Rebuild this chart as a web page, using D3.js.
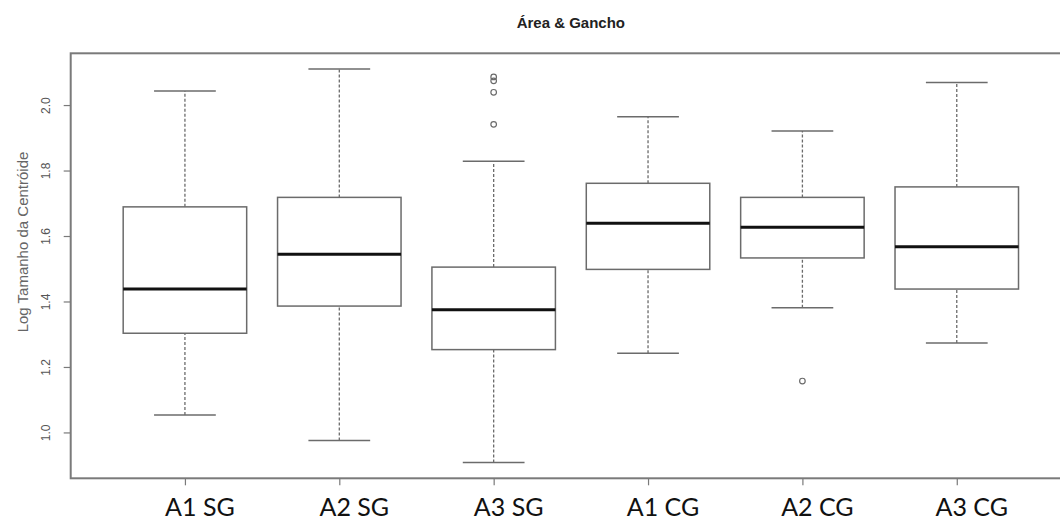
<!DOCTYPE html>
<html>
<head>
<meta charset="utf-8">
<script src="https://cdn.jsdelivr.net/npm/d3@7"></script>
<style>
  body { margin: 0; background: #fff; }
  svg { display: block; }
</style>
</head>
<body>
<svg id="chart" width="1060" height="526"></svg>
<script>
// ---- data ----
const title = "Área & Gancho";
const yLabel = "Log Tamanho da Centróide";
const categories = ["A1 SG", "A2 SG", "A3 SG", "A1 CG", "A2 CG", "A3 CG"];
const whiskerLow  = [1.053, 0.975, 0.908, 1.242, 1.381, 1.273];
const q1          = [1.303, 1.386, 1.253, 1.498, 1.533, 1.438];
const medians     = [1.438, 1.544, 1.375, 1.639, 1.627, 1.567];
const q3          = [1.689, 1.718, 1.505, 1.761, 1.718, 1.750];
const whiskerHigh = [2.043, 2.110, 1.828, 1.964, 1.921, 2.069];
const outlierCategory = ["A3 SG", "A3 SG", "A3 SG", "A3 SG", "A2 CG"];
const outlierValues   = [2.086, 2.074, 2.039, 1.941, 1.157];
const yTicks = [1.0, 1.2, 1.4, 1.6, 1.8, 2.0];

// ---- layout ----
const plotLeft = 70.7, plotRight = 1071, plotTop = 53.3, plotBottom = 478.3;
const svg = d3.select("#chart");

const n = categories.length;
const x = d3.scaleLinear().domain([0.5 - 0.04 * n, n + 0.5 + 0.04 * n]).range([plotLeft, plotRight]);
const allVals = whiskerLow.concat(whiskerHigh, outlierValues);
const lo = d3.min(allVals), hi = d3.max(allVals), pad = (hi - lo) * 0.04;
const y = d3.scaleLinear().domain([lo - pad, hi + pad]).range([plotBottom, plotTop]);

const boxes = categories.map((c, i) => ({
  cat: c, pos: i + 1,
  lo: whiskerLow[i], q1: q1[i], med: medians[i], q3: q3[i], hi: whiskerHigh[i]
}));
const halfW = 0.4, capW = 0.2;
const grey = "#6b6b6b";

const g = svg.append("g");

// whiskers (dashed)
g.selectAll(".wl").data(boxes).enter().append("line")
  .attr("x1", d => x(d.pos)).attr("x2", d => x(d.pos))
  .attr("y1", d => y(d.lo)).attr("y2", d => y(d.q1))
  .attr("stroke", grey).attr("stroke-width", 1.3).attr("stroke-dasharray", "3,2");
g.selectAll(".wh").data(boxes).enter().append("line")
  .attr("x1", d => x(d.pos)).attr("x2", d => x(d.pos))
  .attr("y1", d => y(d.q3)).attr("y2", d => y(d.hi))
  .attr("stroke", grey).attr("stroke-width", 1.3).attr("stroke-dasharray", "3,2");
// caps
["lo", "hi"].forEach(k => {
  g.selectAll(".cap-" + k).data(boxes).enter().append("line")
    .attr("x1", d => x(d.pos - capW)).attr("x2", d => x(d.pos + capW))
    .attr("y1", d => y(d[k])).attr("y2", d => y(d[k]))
    .attr("stroke", grey).attr("stroke-width", 1.5);
});
// boxes
g.selectAll(".box").data(boxes).enter().append("rect")
  .attr("x", d => x(d.pos - halfW)).attr("width", d => x(d.pos + halfW) - x(d.pos - halfW))
  .attr("y", d => y(d.q3)).attr("height", d => y(d.q1) - y(d.q3))
  .attr("fill", "#fff").attr("stroke", grey).attr("stroke-width", 1.5);
// medians
g.selectAll(".med").data(boxes).enter().append("line")
  .attr("x1", d => x(d.pos - halfW)).attr("x2", d => x(d.pos + halfW))
  .attr("y1", d => y(d.med)).attr("y2", d => y(d.med))
  .attr("stroke", "#111").attr("stroke-width", 3);
// outliers
g.selectAll(".out").data(outlierValues.map((v, i) => ({ v, pos: categories.indexOf(outlierCategory[i]) + 1 })))
  .enter().append("circle")
  .attr("cx", d => x(d.pos)).attr("cy", d => y(d.v)).attr("r", 2.8)
  .attr("fill", "none").attr("stroke", grey).attr("stroke-width", 1.2);

// frame
svg.append("rect")
  .attr("x", plotLeft).attr("y", plotTop)
  .attr("width", plotRight - plotLeft).attr("height", plotBottom - plotTop)
  .attr("fill", "none").attr("stroke", "#7a7a7a").attr("stroke-width", 2);

// y axis
const yAxis = svg.append("g").attr("transform", `translate(${plotLeft},0)`)
  .call(d3.axisLeft(y).tickValues(yTicks).tickSize(7).tickFormat(d3.format(".1f")));
yAxis.select(".domain").remove();
yAxis.selectAll(".tick line").attr("stroke", "#7a7a7a").attr("stroke-width", 1.2);
yAxis.selectAll(".tick text")
  .attr("x", null).attr("dy", null)
  .attr("transform", "translate(-21,0) rotate(-90)")
  .attr("text-anchor", "middle")
  .attr("font-family", "Liberation Sans, Arial, sans-serif")
  .attr("font-size", 12).attr("fill", "#555");

// x axis ticks (no labels)
const xAxis = svg.append("g").attr("transform", `translate(0,${plotBottom})`)
  .call(d3.axisBottom(x).tickValues(boxes.map(d => d.pos)).tickSize(7).tickFormat(""));
xAxis.select(".domain").remove();
xAxis.selectAll(".tick line").attr("stroke", "#7a7a7a").attr("stroke-width", 1.2);

// category labels
svg.selectAll(".cat").data(boxes).enter().append("text")
  .attr("x", d => x(d.pos) + 15).attr("y", 516)
  .attr("text-anchor", "middle")
  .attr("font-family", "Lato, 'Open Sans', sans-serif")
  .attr("font-size", 25).attr("fill", "#111")
  .text(d => d.cat);

// y label
svg.append("text")
  .attr("transform", `translate(28,242) rotate(-90)`)
  .attr("text-anchor", "middle")
  .attr("font-family", "Liberation Sans, Arial, sans-serif")
  .attr("font-size", 15).attr("fill", "#666")
  .text(yLabel);

// title
svg.append("text")
  .attr("x", (plotLeft + plotRight) / 2).attr("y", 28)
  .attr("text-anchor", "middle")
  .attr("font-family", "Liberation Sans, Arial, sans-serif")
  .attr("font-weight", "bold").attr("font-size", 15).attr("fill", "#222")
  .text(title);
</script>
</body>
</html>
